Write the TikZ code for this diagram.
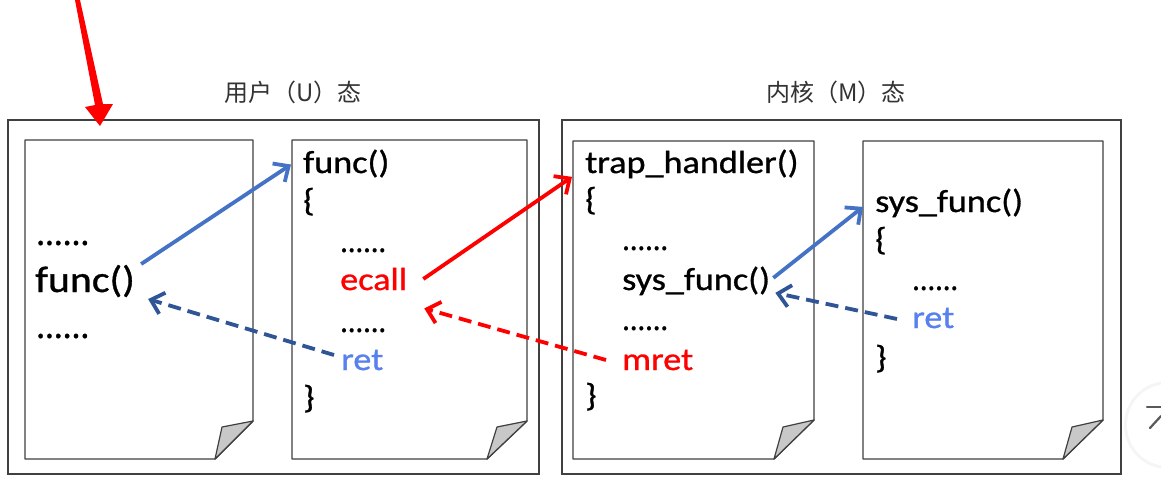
\documentclass[tikz,border=0pt]{standalone}
\usepackage{fontspec}
\setmainfont{Carlito}[FakeStretch=1.13,FakeBold=0.9]
\newfontfamily\cjk{Noto Sans CJK SC}
\usepackage{graphicx}
\usetikzlibrary{arrows.meta,calc}
\definecolor{retblue}{RGB}{88,128,238}
\definecolor{arrblue}{RGB}{68,114,196}
\definecolor{dashblue}{RGB}{47,85,151}
\definecolor{framegray}{RGB}{64,64,64}
\definecolor{foldgray}{RGB}{200,200,200}
\definecolor{pured}{RGB}{255,0,0}
\newcommand{\dotrow}{\scalebox{0.84}[1]{......}}
\begin{document}
\begin{tikzpicture}[x=1pt,y=-1pt,
  frame/.style={draw=framegray, line width=1.4pt},
  page/.style={draw=framegray, line width=1.4pt, fill=white, line join=round},
  fold/.style={draw=framegray, line width=1.2pt, fill=foldgray, line join=round},
  code/.style={anchor=base west, inner sep=0pt, font=\fontsize{32}{38}\selectfont},
  bigcode/.style={anchor=base west, inner sep=0pt, font=\fontsize{37}{44}\selectfont},
  title/.style={inner sep=0pt, font=\cjk\fontsize{24}{28}\selectfont, text=black!80},
  callarrow/.style={line width=3.8pt, -{Straight Barb[length=12pt,width=22pt]}},
  retarrow/.style={callarrow, dash pattern=on 13pt off 7pt}
]
\useasboundingbox (0,0) rectangle (1161,496);
\fill[white] (0,0) rectangle (1161,496);

% screenshot button at right edge
\fill[black!4] (1168,425) circle (44);
\fill[white] (1168,425) circle (41);
\draw[black!65, line width=2.2pt, line cap=round] (1147,407) -- (1161,407);
\draw[black!65, line width=2.2pt, line cap=round] (1150,428) -- (1161,416);

% outer frames
\draw[frame] (8,120) rectangle (539,474);
\draw[frame] (562,120) rectangle (1121,474);

% titles
\node[title] (t1) at (293,92) {用户（U）态};
\node[title] (t2) at (836,92) {内核（M）态};

% pages
\draw[page] (25,140) -- (253,140) -- (253,421) -- (215,459) -- (25,459) -- cycle;
\draw[fold] (253,421) -- (222,427) -- (215,459) -- cycle;
\draw[page] (292,140) -- (527,140) -- (527,421) -- (487,459) -- (292,459) -- cycle;
\draw[fold] (527,421) -- (497,427) -- (487,459) -- cycle;
\draw[page] (573,141) -- (814,141) -- (814,420) -- (774,459) -- (573,459) -- cycle;
\draw[fold] (814,420) -- (783,427) -- (774,459) -- cycle;
\draw[page] (863,141) -- (1103,141) -- (1103,420) -- (1063,459) -- (863,459) -- cycle;
\draw[fold] (1103,420) -- (1072,427) -- (1063,459) -- cycle;

% page 1
\node[bigcode] (p1d1) at (36,245) {\dotrow};
\node[bigcode] (p1f) at (35,292) {func()};
\node[bigcode] (p1d2) at (36,338) {\dotrow};

% page 2
\node[code] (p2f) at (303,173) {func()};
\node[code] (p2ob) at (303,211) {\{};
\node[code] (p2d1) at (340,252) {\dotrow};
\node[code, text=pured] (p2ecall) at (340,290) {ecall};
\node[code] (p2d2) at (340,332) {\dotrow};
\node[code, text=retblue] (p2ret) at (341,370) {ret};
\node[code] (p2cb) at (303,408) {\}};

% page 3
\node[code] (p3t) at (585,173) {trap\_handler()};
\node[code] (p3ob) at (585,210) {\{};
\node[code] (p3d1) at (622,250) {\dotrow};
\node[code] (p3sys) at (622,290) {sys\_func()};
\node[code] (p3d2) at (622,330) {\dotrow};
\node[code, text=pured] (p3mret) at (622,370) {mret};
\node[code] (p3cb) at (585,406) {\}};

% page 4
\node[code] (p4sys) at (875,212) {sys\_func()};
\node[code] (p4ob) at (875,250) {\{};
\node[code] (p4d1) at (912,290) {\dotrow};
\node[code, text=retblue] (p4ret) at (912,328) {ret};
\node[code] (p4cb) at (875,368) {\}};

% arrows
\draw[callarrow, arrblue] ($(p1f.east)+(6,-17)$) -- ($(p2f.west)+(-12,1)$);
\draw[retarrow, dashblue] ($(p2ret.west)+(-7,-5)$) -- ($(p1f.east)+(13,18)$);
\draw[callarrow, pured] ($(p2ecall.east)+(16,0)$) -- ($(p3t.west)+(-13,13)$);
\draw[retarrow, pured] ($(p3mret.west)+(-16,0)$) -- ($(p2ecall.south east)+(17,18)$);
\draw[callarrow, arrblue] ($(p3sys.east)+(3,-3)$) -- ($(p4sys.west)+(-12,4)$);
\draw[retarrow, dashblue] ($(p4ret.west)+(-15,1)$) -- ($(p3sys.east)+(5,12)$);

% red pointer arrow at top
\fill[pured] (75,0) -- (80,0) -- (103,104) -- (113,104) -- (100,126) -- (85,107) -- (95,105) -- cycle;
\end{tikzpicture}
\end{document}
